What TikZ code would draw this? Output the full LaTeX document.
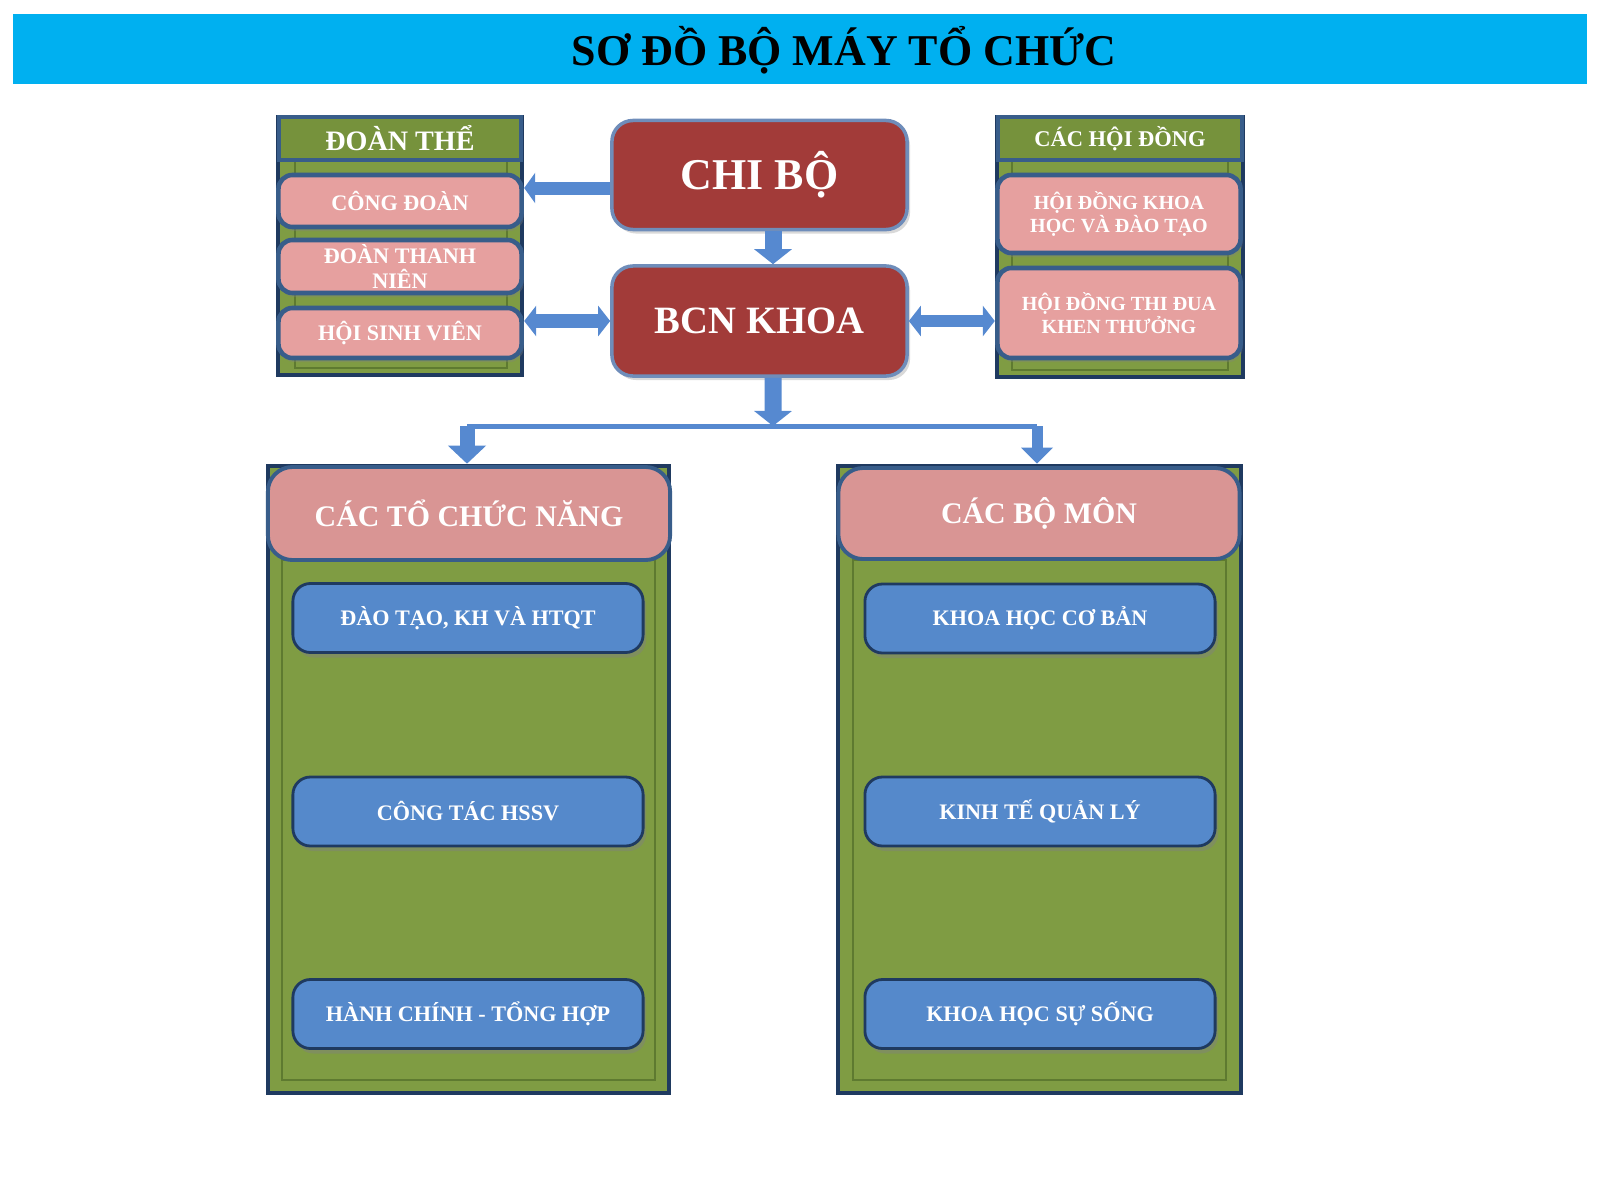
\documentclass[tikz,border=0pt]{standalone}
\usepackage{fontspec}
\setmainfont{Liberation Serif}
\usepackage{tikz}
\usetikzlibrary{arrows.meta,shadows}
\tikzset{frame/.style={draw=navyline,line width=1.2pt,fill=olivefill,inner sep=0pt},
bevel/.style={draw=olivedark,thin},
headbox/.style={draw=blueline,line width=1.3pt,fill=olivehead,text=white,inner sep=0pt},
pinkbox/.style={draw=blueline,line width=1.3pt,fill=pinkfill,rounded corners=4pt,text=white,align=center,inner sep=0pt,drop shadow={shadow xshift=.2mm,shadow yshift=-.4mm,opacity=.35}},
pinkhead/.style={draw=blueline,line width=1.1pt,fill=pinkhd,rounded corners=7pt,text=white,inner sep=0pt,font=\bfseries\fontsize{8.5}{10}\selectfont},
redbox/.style={draw=redline,line width=1pt,fill=redfill,rounded corners=6pt,text=white,inner sep=0pt,drop shadow={shadow xshift=.3mm,shadow yshift=-.4mm,opacity=.3}},
bluebox/.style={draw=navyline,line width=.8pt,fill=bluefill,rounded corners=5pt,text=white,inner sep=0pt,minimum width=3.5cm,minimum height=.69cm,font=\bfseries\fontsize{6.3}{7.5}\selectfont,drop shadow={shadow xshift=.3mm,shadow yshift=-.5mm,opacity=.45}},
blockarrow/.style={-{Triangle[length=1.5mm,width=3.4mm]},line width=1.6mm,arrowblue},
dblarrow/.style={{Triangle[length=1.2mm,width=3mm]}-{Triangle[length=1.2mm,width=3mm]},line width=1.4mm,arrowblue},
link/.style={line width=.5mm,arrowblue}}
\definecolor{cyanbar}{HTML}{00B0F0}
\definecolor{olivefill}{HTML}{7F9C43}
\definecolor{olivehead}{HTML}{76923C}
\definecolor{olivedark}{HTML}{5E7A30}
\definecolor{navyline}{HTML}{1F3A60}
\definecolor{blueline}{HTML}{385D8A}
\definecolor{pinkfill}{HTML}{E6A09F}
\definecolor{pinkhd}{HTML}{D99594}
\definecolor{redfill}{HTML}{A23B39}
\definecolor{redline}{HTML}{6F8DBA}
\definecolor{bluefill}{HTML}{5589CB}
\definecolor{arrowblue}{HTML}{5689D0}
\begin{document}
\begin{tikzpicture}[x=0.01cm,y=-0.01cm]
\useasboundingbox (0,0) rectangle (1600,1200);
\node[fill=cyanbar,minimum width=15.74cm,minimum height=.69cm,inner sep=0pt] (bar) at (800,49) {};
\node[font=\bfseries\fontsize{12.5}{14}\selectfont] (title) at (844,50) {SƠ ĐỒ BỘ MÁY TỔ CHỨC};
\node[frame,minimum width=2.44cm,minimum height=2.58cm] (doanthe) at (400,246) {};
\draw[bevel] (295,160) rectangle (507,368);
\node[headbox,minimum width=2.42cm,minimum height=.43cm,font=\bfseries\fontsize{8}{9}\selectfont] (doanthehead) at (400,138.5) {ĐOÀN THỂ};
\node[pinkbox,minimum width=2.43cm,minimum height=.52cm,font=\bfseries\fontsize{6.3}{7}\selectfont] (congdoan) at (400,201) {CÔNG ĐOÀN};
\node[pinkbox,minimum width=2.43cm,minimum height=.53cm,font=\bfseries\fontsize{6.3}{7}\selectfont] (doantn) at (400,266.5) {ĐOÀN THANH\\NIÊN};
\node[pinkbox,minimum width=2.43cm,minimum height=.50cm,font=\bfseries\fontsize{6.3}{7}\selectfont] (hoisv) at (400,333) {HỘI SINH VIÊN};
\node[frame,minimum width=2.46cm,minimum height=2.6cm] (hoidong) at (1120,247) {};
\draw[bevel] (1012,160) rectangle (1228,370);
\node[headbox,minimum width=2.44cm,minimum height=.43cm,font=\bfseries\fontsize{6.4}{7.5}\selectfont] (hoidonghead) at (1120,138.5) {CÁC HỘI ĐỒNG};
\node[pinkbox,minimum width=2.43cm,minimum height=.78cm,font=\bfseries\fontsize{5.7}{6.6}\selectfont] (hdkh) at (1119,214) {HỘI ĐỒNG KHOA\\HỌC VÀ ĐÀO TẠO};
\node[pinkbox,minimum width=2.43cm,minimum height=.90cm,font=\bfseries\fontsize{5.7}{6.4}\selectfont] (hdtd) at (1119,313) {HỘI ĐỒNG THI ĐUA\\KHEN THƯỞNG};
\node[redbox,minimum width=2.95cm,minimum height=1.09cm,font=\bfseries\fontsize{12.5}{14}\selectfont] (chibo) at (759.5,175) {CHI BỘ};
\node[redbox,minimum width=2.95cm,minimum height=1.10cm,font=\bfseries\fontsize{11}{13}\selectfont] (bcn) at (759.5,321) {BCN KHOA};
\node[frame,minimum width=4.01cm,minimum height=6.27cm] (tcn) at (468.5,779.5) {};
\draw[bevel] (282,560) rectangle (655,1080);
\node[pinkhead,minimum width=4.02cm,minimum height=.93cm] (tcnhead) at (469,513.5) {CÁC TỔ CHỨC NĂNG};
\node[frame,minimum width=4.03cm,minimum height=6.27cm] (bomon) at (1039.5,779.5) {};
\draw[bevel] (853,560) rectangle (1226,1080);
\node[pinkhead,minimum width=4.01cm,minimum height=.91cm] (bomonhead) at (1039,513.5) {CÁC BỘ MÔN};
\foreach \n/\y/\t in {dtkh/618/{ĐÀO TẠO, KH VÀ HTQT},hssv/811.5/{CÔNG TÁC HSSV},hcth/1014/{HÀNH CHÍNH - TỔNG HỢP}}
\node[bluebox] (\n) at (468,\y) {\t};
\foreach \n/\y/\t in {khcb/618.5/{KHOA HỌC CƠ BẢN},ktql/811.5/{KINH TẾ QUẢN LÝ},khss/1014/{KHOA HỌC SỰ SỐNG}}
\node[bluebox] (\n) at (1040,\y) {\t};
\coordinate (cdtip) at ([yshift=-1.3mm]chibo.west);
\draw[blockarrow,line width=1.3mm,-{Triangle[length=1.1mm,width=3mm]}] (cdtip) -- (cdtip -| doanthe.east);
\draw[dblarrow] (bcn.west) -- (bcn.west -| doanthe.east);
\draw[dblarrow,line width=1.2mm] (bcn.east) -- (bcn.east -| hoidong.west);
\draw[blockarrow,line width=1.7mm,-{Triangle[length=1.5mm,width=3.7mm]}] ([xshift=1.35mm]chibo.south) -- ([xshift=1.35mm]bcn.north);
\coordinate (split) at (773,426);
\draw[blockarrow,line width=1.7mm,-{Triangle[length=1.5mm,width=3.7mm]}] ([xshift=1.35mm]bcn.south) -- (split);
\draw[link] ([xshift=-.15mm]tcn.north |- split) -- ([xshift=-.25mm]bomon.north |- split);
\draw[blockarrow,line width=1.5mm,-{Triangle[length=1.8mm,width=3.7mm]}] ([xshift=-.15mm]tcn.north |- split) -- ([xshift=-.15mm]tcn.north);
\draw[blockarrow,line width=1.1mm,-{Triangle[length=1.6mm,width=3.1mm]}] ([xshift=-.25mm]bomon.north |- split) -- ([xshift=-.25mm]bomon.north);
\end{tikzpicture}
\end{document}
